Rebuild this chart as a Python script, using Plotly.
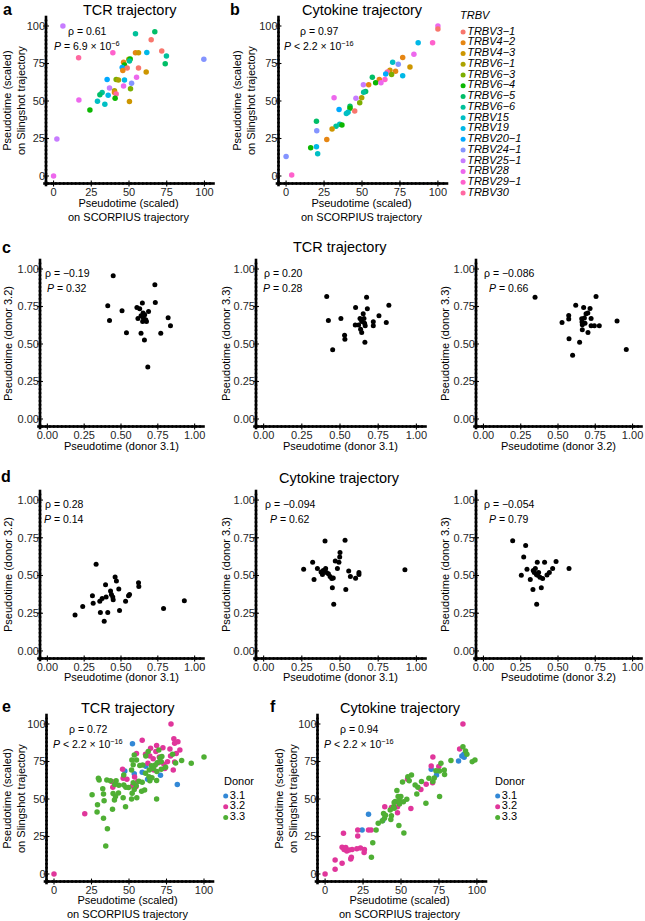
import numpy as np
import plotly.graph_objects as go

W, H = 645, 921
FONT = "Liberation Sans, Arial, Helvetica, sans-serif"

# ---------------- data ----------------
trbv_levels = ["TRBV3-1", "TRBV4-2", "TRBV4-3", "TRBV6-1", "TRBV6-3", "TRBV6-4", "TRBV6-5",
               "TRBV6-6", "TRBV15", "TRBV19", "TRBV20-1", "TRBV24-1", "TRBV25-1", "TRBV28",
               "TRBV29-1", "TRBV30"]
trbv_colors = ["#F8766D", "#E68613", "#CD9600", "#ABA300", "#7CAE00", "#0CB702", "#00BE67",
               "#00C19A", "#00BFC4", "#00B8E7", "#00A9FF", "#8494FF", "#C77CFF", "#ED68ED",
               "#FF61CC", "#FF68A1"]

# panel a: TCR trajectory (SCORPIUS vs Slingshot)
a_x = [6.2, 16.6, 16.8, 2.2, 0, 39.3, 54.3, 67.1, 64.7, 71.7, 74.8, 74.0, 99.6, 61.8, 54.3,
       56.3, 49.9, 50.8, 50.3, 46.4, 47.0, 45.5, 48.8, 56.3, 45.9, 61.4, 55.0, 35.5, 41.5, 43.0,
       47.0, 51.7, 37.1, 46.4, 51.0, 40.4, 40.4, 41.5, 36.2, 32.2, 30.7, 29.1, 34.0, 40.8, 50.3, 24.1]
a_y = [100, 78.9, 50.7, 24.7, 0, 82.2, 94.9, 96.2, 90.9, 83.3, 80.0, 74.9, 77.8, 82.4, 82.2,
       82.2, 77.8, 78.0, 76.7, 75.8, 74.0, 72.4, 72.0, 72.0, 70.4, 69.3, 65.8, 64.4, 64.4, 64.0,
       64.0, 61.8, 58.7, 60.0, 58.2, 56.9, 55.6, 54.7, 53.8, 55.6, 54.2, 49.8, 47.8, 51.8, 49.6, 44.0]
a_trbv = ["TRBV25-1", "TRBV30", "TRBV28", "TRBV25-1", "TRBV28", "TRBV29-1", "TRBV6-6", "TRBV6-5",
          "TRBV3-1", "TRBV3-1", "TRBV6-6", "TRBV6-5", "TRBV24-1", "TRBV19", "TRBV4-2", "TRBV4-3",
          "TRBV6-1", "TRBV6-4", "TRBV6-6", "TRBV4-2", "TRBV6-4", "TRBV20-1", "TRBV3-1", "TRBV3-1",
          "TRBV4-2", "TRBV4-3", "TRBV28", "TRBV20-1", "TRBV6-3", "TRBV6-1", "TRBV19", "TRBV24-1",
          "TRBV25-1", "TRBV28", "TRBV6-3", "TRBV6-1", "TRBV4-2", "TRBV30", "TRBV19", "TRBV6-6",
          "TRBV6-5", "TRBV15", "TRBV15", "TRBV6-4", "TRBV4-3", "TRBV6-4"]

# panel b: Cytokine trajectory
b_x = [100, 100, 96.5, 87.0, 84.2, 76.8, 70.2, 73.9, 81.6, 68.4, 66.7, 72.1, 65.6, 69.5, 76.8,
       56.8, 61.4, 65.1, 59.0, 62.5, 50.9, 54.4, 52.4, 51.1, 31.6, 46.0, 49.8, 48.5, 34.9, 42.1,
       42.1, 45.2, 40.8, 39.7, 35.3, 36.8, 32.9, 30.3, 20.0, 20.2, 26.8, 20.0, 16.2, 20.8, 0, 3.7]
b_y = [100, 98.0, 88.8, 88.8, 81.2, 79.0, 75.8, 74.5, 72.7, 70.5, 69.4, 69.9, 68.0, 67.6, 66.9,
       65.8, 64.4, 64.4, 62.2, 62.2, 60.9, 60.9, 56.4, 55.9, 52.1, 51.9, 52.1, 48.8, 44.3, 46.5,
       45.2, 43.4, 42.5, 41.6, 34.5, 34.0, 33.1, 31.3, 36.5, 30.2, 24.4, 19.5, 18.8, 14.8, 13.0, 0.7]
b_trbv = ["TRBV28", "TRBV3-1", "TRBV29-1", "TRBV19", "TRBV28", "TRBV4-2", "TRBV15", "TRBV24-1",
          "TRBV4-3", "TRBV4-3", "TRBV30", "TRBV4-2", "TRBV20-1", "TRBV6-3", "TRBV19", "TRBV6-5",
          "TRBV4-2", "TRBV29-1", "TRBV6-4", "TRBV28", "TRBV25-1", "TRBV4-2", "TRBV6-5", "TRBV6-6",
          "TRBV28", "TRBV25-1", "TRBV6-1", "TRBV6-3", "TRBV20-1", "TRBV6-5", "TRBV6-4", "TRBV3-1",
          "TRBV15", "TRBV15", "TRBV15", "TRBV6-4", "TRBV6-6", "TRBV4-3", "TRBV6-5", "TRBV24-1",
          "TRBV4-2", "TRBV19", "TRBV6-4", "TRBV15", "TRBV24-1", "TRBV29-1"]

# panel c: TCR trajectory, donor vs donor
c1_x = [0.447, 0.41, 0.422, 0.507, 0.537, 0.608, 0.627, 0.615, 0.636, 0.645, 0.65, 0.661, 0.652,
        0.668, 0.673, 0.687, 0.636, 0.659, 0.730, 0.733, 0.682, 0.770, 0.82, 0.836, 0.647]
c1_y = [0.955, 0.755, 0.657, 0.722, 0.575, 0.744, 0.735, 0.670, 0.688, 0.773, 0.706, 0.695, 0.673,
        0.661, 0.650, 0.717, 0.572, 0.526, 0.895, 0.777, 0.347, 0.572, 0.675, 0.621, 0.650]
c2_x = [0.413, 0.424, 0.452, 0.506, 0.53, 0.532, 0.602, 0.6, 0.622, 0.631, 0.642, 0.635, 0.642,
        0.652, 0.657, 0.661, 0.665, 0.674, 0.679, 0.663, 0.718, 0.718, 0.755, 0.803, 0.82]
c2_y = [0.817, 0.657, 0.461, 0.670, 0.559, 0.532, 0.744, 0.626, 0.626, 0.670, 0.650, 0.599, 0.577,
        0.702, 0.670, 0.639, 0.621, 0.811, 0.735, 0.512, 0.648, 0.621, 0.688, 0.644, 0.759]
c3_x = [0.346, 0.527, 0.572, 0.572, 0.574, 0.598, 0.619, 0.645, 0.659, 0.661, 0.663, 0.663, 0.672,
        0.677, 0.681, 0.688, 0.7, 0.701, 0.715, 0.722, 0.722, 0.744, 0.755, 0.777, 0.896, 0.958]
c3_y = [0.811, 0.644, 0.690, 0.666, 0.535, 0.425, 0.759, 0.512, 0.668, 0.646, 0.628, 0.595, 0.744,
        0.673, 0.639, 0.702, 0.706, 0.577, 0.737, 0.670, 0.621, 0.621, 0.817, 0.621, 0.653, 0.463]

# panel d: Cytokine trajectory, donor vs donor
d1_x = [0.188, 0.24, 0.306, 0.311, 0.331, 0.356, 0.36, 0.372, 0.386, 0.395, 0.399, 0.41, 0.429,
        0.435, 0.444, 0.447, 0.46, 0.469, 0.485, 0.49, 0.531, 0.551, 0.558, 0.619, 0.621, 0.789, 0.93]
d1_y = [0.239, 0.294, 0.365, 0.316, 0.574, 0.33, 0.255, 0.348, 0.197, 0.439, 0.357, 0.255, 0.397,
        0.374, 0.357, 0.339, 0.49, 0.463, 0.41, 0.268, 0.33, 0.365, 0.374, 0.452, 0.427, 0.281, 0.332]
d2_x = [0.262, 0.321, 0.33, 0.352, 0.376, 0.385, 0.39, 0.402, 0.406, 0.411, 0.424, 0.435, 0.446,
        0.45, 0.456, 0.459, 0.469, 0.483, 0.493, 0.498, 0.5, 0.533, 0.538, 0.557, 0.568, 0.602,
        0.624, 0.624, 0.925]
d2_y = [0.542, 0.587, 0.473, 0.547, 0.524, 0.507, 0.533, 0.729, 0.547, 0.52, 0.511, 0.493, 0.48,
        0.418, 0.484, 0.309, 0.596, 0.547, 0.587, 0.622, 0.653, 0.733, 0.407, 0.529, 0.493, 0.482,
        0.507, 0.52, 0.538]
d3_x = [0.196, 0.283, 0.27, 0.254, 0.292, 0.314, 0.332, 0.334, 0.341, 0.348, 0.355, 0.357, 0.361,
        0.363, 0.37, 0.379, 0.388, 0.397, 0.41, 0.426, 0.442, 0.464, 0.487, 0.574]
d3_y = [0.731, 0.698, 0.622, 0.502, 0.542, 0.473, 0.407, 0.533, 0.52, 0.547, 0.507, 0.309, 0.587,
        0.502, 0.52, 0.489, 0.418, 0.48, 0.587, 0.504, 0.52, 0.547, 0.593, 0.547]

# panel e: TCR trajectory by donor
donor_levels = ["3.1", "3.2", "3.3"]
donor_colors = ["#3288D6", "#E0369B", "#4FAF34"]
e31_x = [52.3, 61.2, 47.2, 53.5, 58.8, 71.0, 82.2, 62.4]
e31_y = [86.9, 71.8, 68.7, 66.9, 67.8, 65.8, 59.6, 63.1]
e32_x = [0, 20.5, 78.0, 58.8, 68.4, 79.9, 82.6, 80.4, 64.4, 72.6, 83.9, 77.3, 55.0, 61.0, 67.9,
         70.2, 77.7, 81.5, 66.1, 75.7, 73.3, 66.4, 73.9, 79.5, 80.4, 62.6, 45.7, 46.1, 48.6, 53.7,
         52.3, 54.6, 55.7, 38.5, 39.2, 63.9, 66.6, 69.7]
e32_y = [0, 40.2, 100, 89.1, 85.6, 90.2, 88.2, 87.1, 83.8, 84.2, 82.7, 83.3, 80.4, 79.8, 81.6,
         78.0, 78.7, 80.4, 76.9, 74.9, 73.1, 71.8, 70.4, 69.3, 74.7, 73.8, 69.8, 63.8, 63.1, 64.7,
         58.7, 58.2, 61.6, 61.6, 57.8, 78.7, 69.3, 74.2]
e33_x = [100, 91.5, 85.1, 81.1, 79.1, 69.9, 71.9, 70.6, 71.5, 68.8, 67.5, 65.0, 66.1, 63.5, 68.6,
         71.5, 74.4, 65.3, 68.4, 63.9, 61.0, 59.1, 61.2, 62.8, 57.2, 55.0, 53.5, 51.9, 52.8, 51.7,
         58.8, 56.6, 54.8, 53.5, 52.1, 55.2, 51.7, 58.4, 60.4, 68.4, 47.9, 49.7, 46.5, 43.2, 41.4,
         40.5, 43.0, 39.4, 41.0, 46.1, 40.3, 47.7, 39.0, 32.5, 30.1, 29.6, 35.2, 37.6, 33.0, 25.4,
         33.4, 29.0, 28.7, 33.0, 35.6, 34.5, 46.5, 52.8, 63.3]
e33_y = [78.0, 73.8, 75.6, 74.0, 79.8, 82.7, 78.4, 77.3, 74.9, 74.2, 72.7, 72.2, 70.4, 69.3, 68.4,
         69.8, 71.1, 64.2, 62.4, 62.2, 67.1, 72.7, 78.7, 81.6, 72.4, 76.0, 79.3, 76.0, 72.9, 69.3,
         61.1, 61.8, 58.9, 56.4, 53.8, 50.9, 50.0, 55.1, 56.0, 50.0, 57.8, 57.6, 59.3, 59.1, 62.2,
         59.6, 54.0, 53.6, 51.6, 50.9, 49.3, 44.9, 43.1, 56.9, 62.7, 63.8, 62.7, 62.2, 53.3, 52.9,
         48.9, 46.2, 41.3, 37.1, 30.2, 18.7, 66.0, 60.9, 64.9]

# panel f: Cytokine trajectory by donor
f31_x = [28.6, 24.4, 38.0, 69.9, 73.4, 87.9, 90.1, 91.4, 91.6]
f31_y = [39.8, 29.3, 35.6, 69.8, 66.0, 75.3, 78.7, 79.8, 77.8]
f32_x = [90.8, 88.6, 71.0, 69.9, 74.9, 66.6, 70.8, 54.3, 47.7, 39.3, 28.6, 30.3, 21.5, 21.5, 12.1,
         11.2, 12.5, 14.3, 13.6, 15.8, 17.8, 20.9, 23.3, 25.9, 25.7, 16.9, 17.3, 6.6, 11.2, 6.6, 0,
         56.5, 47.7, 43.7, 63.1]
f32_y = [100, 83.3, 78.0, 72.0, 71.6, 59.8, 60.9, 63.1, 44.9, 44.9, 29.3, 29.3, 29.3, 25.3, 27.1,
         17.8, 16.4, 15.3, 17.6, 16.0, 16.4, 16.9, 17.3, 16.4, 14.4, 10.0, 11.1, 9.3, 7.1, 3.1, 0,
         43.6, 40.9, 44.4, 56.4]
f33_x = [90.8, 92.5, 93.4, 96.9, 98.7, 82.9, 78.5, 78.7, 76.3, 75.4, 73.0, 71.9, 68.4, 71.0, 75.4,
         66.4, 63.5, 61.1, 59.3, 60.4, 56.9, 54.5, 55.4, 51.0, 47.3, 49.9, 53.8, 51.6, 49.0, 45.1,
         45.5, 42.9, 38.5, 39.1, 37.6, 35.0, 33.6, 31.4, 30.5, 48.6, 51.9, 48.1, 46.2, 49.0, 45.5,
         43.7, 39.8, 43.3]
f33_y = [84.9, 82.0, 79.8, 74.9, 76.0, 75.6, 69.3, 66.4, 73.8, 68.7, 68.9, 64.0, 63.8, 61.6, 51.6,
         47.1, 61.6, 57.8, 59.3, 53.3, 66.0, 64.9, 62.2, 61.3, 55.6, 51.6, 49.8, 48.2, 46.7, 44.9,
         43.8, 42.7, 40.4, 37.1, 35.3, 33.8, 29.3, 20.9, 11.1, 32.4, 27.3, 51.6, 48.4, 48.9, 47.6,
         38.9, 39.1, 36.4]

scaled_ticks = [0, 25, 50, 75, 100]
donor_ticks = [0, 0.25, 0.5, 0.75, 1.0]

# ---------------- helpers ----------------
def dom_x(x0, x1):
    return [x0 / W, x1 / W]

def dom_y(y0, y1):
    return [1 - y1 / H, 1 - y0 / H]

def px(x, y):
    return x / W, 1 - y / H

fig = go.Figure()
layout = {}
annotations = []
LW = 2.6          # axis line width (px)
SEG = 4.0         # short segment marker size; line-ew/line-ns length = 1.4 * size
STEP = 4.0        # px between consecutive segments (overlapping -> continuous line)

def axis_decor(xa, ya, xb, yb, rng, ticks):
    """ggplot-classic axis lines built from short overlapping line markers, plus ticks."""
    lo, hi = rng
    nx = int((xb[1] - xb[0]) / STEP) + 2
    ny = int((yb[1] - yb[0]) / STEP) + 2
    along_x = np.linspace(lo, hi, nx)
    along_y = np.linspace(lo, hi, ny)
    # bottom axis line
    fig.add_trace(go.Scatter(x=along_x, y=[lo] * nx, mode="markers", xaxis=xa, yaxis=ya,
                             cliponaxis=False, showlegend=False, hoverinfo="skip",
                             marker=dict(symbol="line-ew", size=SEG,
                                         line=dict(width=LW, color="black"))))
    # left axis line
    fig.add_trace(go.Scatter(x=[lo] * ny, y=along_y, mode="markers", xaxis=xa, yaxis=ya,
                             cliponaxis=False, showlegend=False, hoverinfo="skip",
                             marker=dict(symbol="line-ns", size=SEG,
                                         line=dict(width=LW, color="black"))))
    # tick marks at the tick values
    fig.add_trace(go.Scatter(x=ticks, y=[lo] * len(ticks), mode="markers", xaxis=xa, yaxis=ya,
                             cliponaxis=False, showlegend=False, hoverinfo="skip",
                             marker=dict(symbol="line-ns", size=4.2,
                                         line=dict(width=1.1, color="black"))))
    fig.add_trace(go.Scatter(x=[lo] * len(ticks), y=ticks, mode="markers", xaxis=xa, yaxis=ya,
                             cliponaxis=False, showlegend=False, hoverinfo="skip",
                             marker=dict(symbol="line-ew", size=4.2,
                                         line=dict(width=1.1, color="black"))))

def data_axes(idx, xb, yb, rng, ticks, fmt):
    xs = "" if idx == 1 else str(idx)
    common = dict(showline=False, ticks="", showgrid=False,
                  zeroline=False, tickvals=ticks, tickformat=fmt, range=rng,
                  automargin=False,
                  tickfont=dict(size=11, color="#262626", family=FONT), fixedrange=True)
    layout["xaxis" + xs] = dict(domain=dom_x(*xb), anchor="y" + xs, **common)
    layout["yaxis" + xs] = dict(domain=dom_y(*yb), anchor="x" + xs, **common)
    axis_decor("x" + xs, "y" + xs, xb, yb, rng, ticks)
    return "x" + xs, "y" + xs

def add_text(text, x, y, size=10.5, xanchor="center", angle=0, bold=False, italic=False):
    if bold:
        text = "<b>" + text + "</b>"
    if italic:
        text = "<i>" + text + "</i>"
    xx, yy = px(x, y)
    annotations.append(dict(text=text, x=xx, y=yy, xref="paper", yref="paper",
                            xanchor=xanchor, yanchor="middle", showarrow=False,
                            textangle=angle, font=dict(size=size, family=FONT, color="black")))

color_of = dict(zip(trbv_levels, trbv_colors))

def scat(x, y, xa, ya, colors, size=5.5):
    fig.add_trace(go.Scatter(x=x, y=y, mode="markers", xaxis=xa, yaxis=ya, showlegend=False,
                             cliponaxis=False, hoverinfo="skip",
                             marker=dict(size=size, color=colors, line=dict(width=0))))

R100 = [-5, 105]
R1 = [-0.05, 1.05]

# ---- panel a ----
xa, ya = data_axes(1, (46, 212), (18.5, 183.5), R100, scaled_ticks, "d")
scat(a_x, a_y, xa, ya, [color_of[t] for t in a_trbv])
# ---- panel b ----
xa, ya = data_axes(2, (278.5, 445.5), (18.5, 183.5), R100, scaled_ticks, "d")
scat(b_x, b_y, xa, ya, [color_of[t] for t in b_trbv])
# ---- panel c ----
cbox_x = [(40, 202), (256, 424), (476, 640)]
for i, (xs, ys) in enumerate([(c1_x, c1_y), (c2_x, c2_y), (c3_x, c3_y)]):
    xa, ya = data_axes(3 + i, cbox_x[i], (261.5, 426.5), R1, donor_ticks, ".2f")
    scat(xs, ys, xa, ya, "black", 5)
# ---- panel d ----
for i, (xs, ys) in enumerate([(d1_x, d1_y), (d2_x, d2_y), (d3_x, d3_y)]):
    xa, ya = data_axes(6 + i, cbox_x[i], (492.5, 658.5), R1, donor_ticks, ".2f")
    scat(xs, ys, xa, ya, "black", 5)
# ---- panel e ----
xa, ya = data_axes(9, (46.5, 211.5), (716.5, 881.5), R100, scaled_ticks, "d")
for (xs, ys), col in zip([(e31_x, e31_y), (e32_x, e32_y), (e33_x, e33_y)], donor_colors):
    scat(xs, ys, xa, ya, col)
# ---- panel f ----
xa, ya = data_axes(10, (317.5, 484.5), (716.5, 881.5), R100, scaled_ticks, "d")
for (xs, ys), col in zip([(f31_x, f31_y), (f32_x, f32_y), (f33_x, f33_y)], donor_colors):
    scat(xs, ys, xa, ya, col)

# ---- legends drawn on hidden axes ----
def legend_axes(idx, xb, yb, xr, n):
    s = str(idx)
    hidden = dict(visible=False, showgrid=False, zeroline=False, fixedrange=True,
                  automargin=False)
    layout["xaxis" + s] = dict(domain=dom_x(*xb), anchor="y" + s, range=xr, **hidden)
    layout["yaxis" + s] = dict(domain=dom_y(*yb), anchor="x" + s, range=[n - 0.5, -0.5],
                               type="category", **hidden)
    return "x" + s, "y" + s

def legend_trace(xa, ya, labels, colors, italic):
    txt = [("<i>%s</i>" % l.replace("-", "\u2212")) if italic else l for l in labels]
    fig.add_trace(go.Scatter(x=[0] * len(labels), y=labels, mode="markers+text", text=txt,
                             textposition="middle right", xaxis=xa, yaxis=ya,
                             showlegend=False, hoverinfo="skip", cliponaxis=False,
                             textfont=dict(size=11, family=FONT, color="black"),
                             marker=dict(size=5, color=colors)))

lx, ly = legend_axes(11, (458, 645), (26.6, 198.4), [-0.28, 10], len(trbv_levels))
legend_trace(lx, ly, trbv_levels, trbv_colors, True)
add_text("TRBV", 458, 15, size=11, xanchor="left", italic=True)

lx, ly = legend_axes(12, (222, 300), (790.6, 822.9), [-0.5, 10], 3)
legend_trace(lx, ly, donor_levels, donor_colors, False)
add_text("Donor", 222, 781, size=11, xanchor="left")

lx, ly = legend_axes(13, (493, 560), (790.6, 822.9), [-0.75, 10], 3)
legend_trace(lx, ly, donor_levels, donor_colors, False)
add_text("Donor", 493, 781, size=11, xanchor="left")

# ---- titles, labels, stats ----
add_text("a", 7, 9, size=16, bold=True)
add_text("b", 235, 9, size=16, bold=True)
add_text("c", 6, 247, size=16, bold=True)
add_text("d", 6, 476, size=16, bold=True)
add_text("e", 6, 706, size=16, bold=True)
add_text("f", 273, 706, size=16, bold=True)

add_text("TCR trajectory", 130, 10, size=14.5)
add_text("Cytokine trajectory", 362, 10, size=14.5)
add_text("TCR trajectory", 340, 247, size=14.5)
add_text("Cytokine trajectory", 339, 478, size=14.5)
add_text("TCR trajectory", 128, 708, size=14.5)
add_text("Cytokine trajectory", 400, 708, size=14.5)

ytitle2 = "Pseudotime (scaled)<br>on Slingshot trajectory"
xtitle2 = "Pseudotime (scaled)<br>on SCORPIUS trajectory"
add_text(ytitle2, 14, 101, size=11, angle=-90)
add_text(xtitle2, 129, 210, size=11)
add_text(ytitle2, 244, 101, size=11, angle=-90)
add_text(xtitle2, 362, 210, size=11)
add_text(ytitle2, 14, 799, size=11, angle=-90)
add_text(xtitle2, 128, 907, size=11)
add_text(ytitle2, 286, 799, size=11, angle=-90)
add_text(xtitle2, 400, 907, size=11)

c_ylabels = ["Pseudotime (donor 3.2)", "Pseudotime (donor 3.3)", "Pseudotime (donor 3.3)"]
c_xlabels = ["Pseudotime (donor 3.1)", "Pseudotime (donor 3.1)", "Pseudotime (donor 3.2)"]
ytitle_x = [8, 226, 445]
for i in range(3):
    cx = (cbox_x[i][0] + cbox_x[i][1]) / 2
    add_text(c_ylabels[i], ytitle_x[i], 344, size=11, angle=-90)
    add_text(c_xlabels[i], cx, 446, size=11)
    add_text(c_ylabels[i], ytitle_x[i], 575, size=11, angle=-90)
    add_text(c_xlabels[i], cx, 677, size=11)

stats = [
    ("\u03c1 = 0.61", "<i>P</i> = 6.9 \u00d7 10<sup>\u22126</sup>", 87, 31),
    ("\u03c1 = 0.97", "<i>P</i> &lt; 2.2 \u00d7 10<sup>\u221216</sup>", 319, 31),
    ("\u03c1 = \u22120.19", "<i>P</i> = 0.32", 67, 273),
    ("\u03c1 = 0.20", "<i>P</i> = 0.28", 283, 273),
    ("\u03c1 = \u22120.086", "<i>P</i> = 0.66", 509, 273),
    ("\u03c1 = 0.28", "<i>P</i> = 0.14", 64, 504),
    ("\u03c1 = \u22120.094", "<i>P</i> = 0.62", 290, 504),
    ("\u03c1 = \u22120.054", "<i>P</i> = 0.79", 509, 504),
    ("\u03c1 = 0.72", "<i>P</i> &lt; 2.2 \u00d7 10<sup>\u221216</sup>", 88, 729),
    ("\u03c1 = 0.94", "<i>P</i> &lt; 2.2 \u00d7 10<sup>\u221216</sup>", 359, 729),
]
for rho, p, cx, cy in stats:
    add_text(rho, cx, cy, size=10.5)
    add_text(p, cx, cy + 14.5, size=10.5)

layout.update(dict(template="none", width=W, height=H, margin=dict(l=0, r=0, t=0, b=0),
                   paper_bgcolor="white", plot_bgcolor="white", showlegend=False,
                   font=dict(family=FONT, color="black"), annotations=annotations))
fig.update_layout(**layout)
fig.write_html("out.html", config={"displayModeBar": False, "staticPlot": True},
               post_script="document.body.style.margin='0';document.body.style.padding='0';")
